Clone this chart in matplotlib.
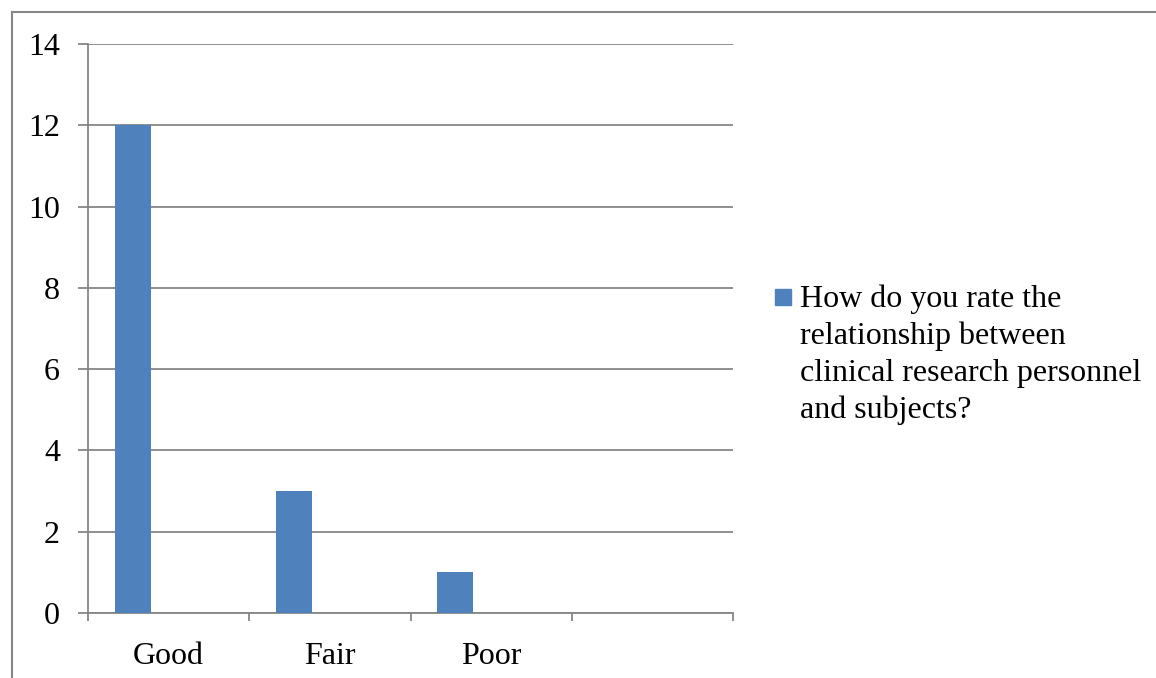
import matplotlib
matplotlib.use("Agg")
import matplotlib.pyplot as plt
from matplotlib.patches import Rectangle
from matplotlib.lines import Line2D
import numpy as np

categories = ["Good", "Fair", "Poor", ""]
counts = [12, 3, 1]
series_name = "How do you rate the\nrelationship between\nclinical research personnel\nand subjects?"
y_ticks = [0, 2, 4, 6, 8, 10, 12, 14]

BAR = "#4F81BD"
GRID = "#868686"
FONT = "Liberation Serif"

W, H = 1156, 678
fig = plt.figure(figsize=(W / 100, H / 100), dpi=100)
plt.rcParams["font.family"] = FONT

ax = fig.add_axes([88 / W, 1 - 613 / H, (733 - 88) / W, (613 - 44) / H])

# clustered-column geometry: three slots per category with 150% gap, first slot used
n_slots, gap = 3, 1.5
bar_w = 1.0 / (n_slots + gap)
offset = (gap / 2 + 0.5) * bar_w
x = np.arange(len(counts)) + offset
ax.bar(x, counts, width=bar_w, color=BAR, zorder=3)

ax.set_xlim(0, len(categories))
ax.set_ylim(0, 14)

ax.set_yticks(y_ticks)
ax.set_yticklabels([str(v) for v in y_ticks])
ax.yaxis.grid(True, color=GRID, linewidth=1.3)
ax.set_axisbelow(True)

ax.set_xticks(np.arange(len(categories) + 1))
ax.set_xticklabels([])
ax.set_xticks(np.arange(len(categories)) + 0.5, minor=True)
ax.set_xticklabels(categories, minor=True)

for s in ["top", "right"]:
    ax.spines[s].set_visible(False)
for s in ["left", "bottom"]:
    ax.spines[s].set_color(GRID)
    ax.spines[s].set_linewidth(1.3)

ax.tick_params(axis="y", which="major", length=7.2, width=1.3, color=GRID,
               pad=13, labelsize=23)
ax.tick_params(axis="x", which="major", length=6, width=1.3, color=GRID)
ax.tick_params(axis="x", which="minor", length=0, pad=21, labelsize=23)

# legend: swatch plus wrapped series name
fig.patches.append(Rectangle((775 / W, 1 - 305 / H), 16 / W, 16 / H,
                             transform=fig.transFigure, color=BAR))
fig.text(800 / W, 1 - 285 / H, series_name, fontsize=23, va="top", ha="left",
         linespacing=1.33, color="black")

# outer chart frame (top and left edges)
fig.add_artist(Line2D([11.5 / W, 1], [1 - 11.5 / H, 1 - 11.5 / H],
                      transform=fig.transFigure, color="#878787", linewidth=1.5))
fig.add_artist(Line2D([11.5 / W, 11.5 / W], [0, 1 - 11.5 / H],
                      transform=fig.transFigure, color="#878787", linewidth=1.5))

fig.savefig("out.png", dpi=100, facecolor="white")
